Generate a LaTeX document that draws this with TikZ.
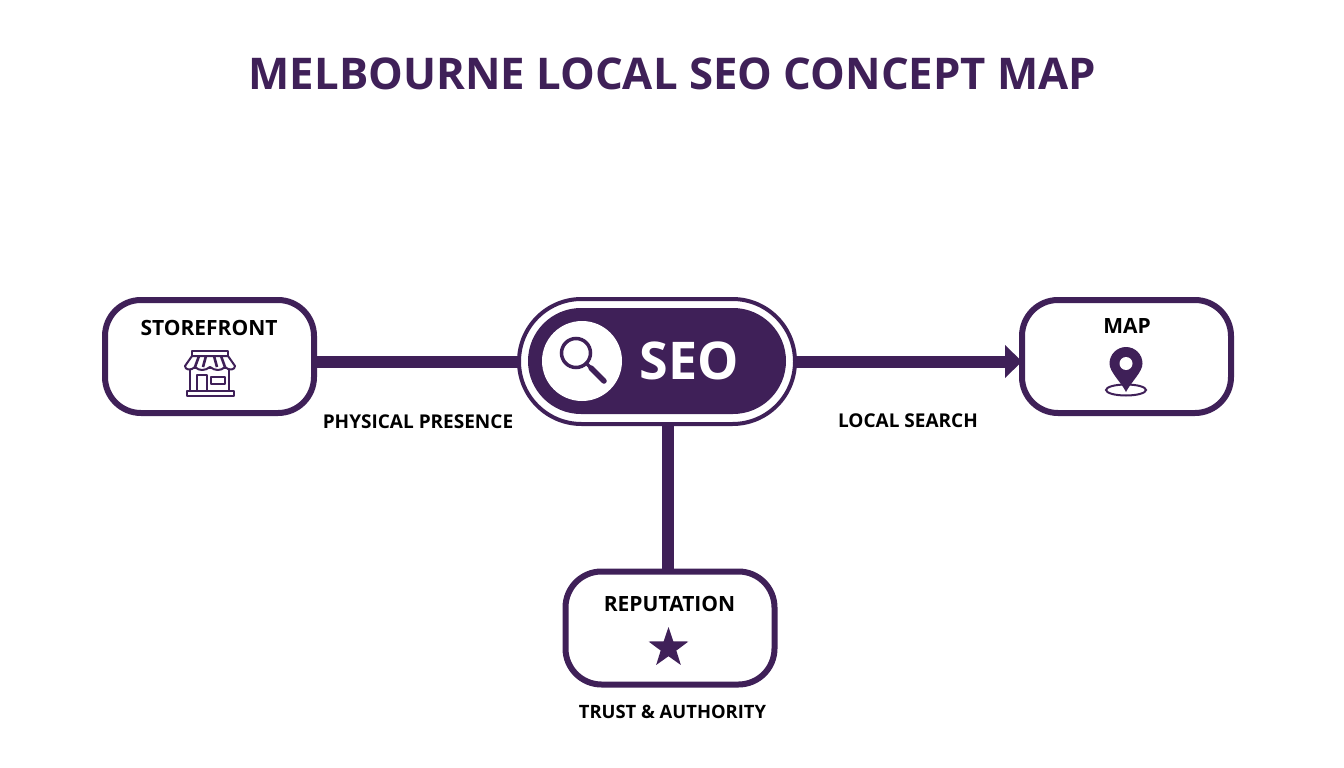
\documentclass[tikz,border=0pt]{standalone}
\usepackage{fontspec}
\setmainfont{Open Sans}
\usetikzlibrary{arrows.meta,shapes.geometric,shapes.misc}
\definecolor{plum}{HTML}{3F2058}
\tikzset{
  box/.style={draw=plum,line width=6pt,rounded corners=36pt,fill=white,minimum width=209pt,minimum height=113pt,outer sep=0pt,inner sep=0pt},
  link/.style={draw=plum,line width=12pt},
  head/.style={font=\bfseries\fontsize{21}{21}\selectfont,text=black,inner sep=0pt},
  caption/.style={font=\bfseries\fontsize{19}{19}\selectfont,text=black,inner sep=0pt},
  icon/.style={draw=plum,line width=2pt,fill=white,line join=round},
}
\begin{document}
\begin{tikzpicture}[x=1pt,y=-1pt]
\useasboundingbox (0,0) rectangle (1344,768);
\fill[white] (0,0) rectangle (1344,768);
\node[font=\bfseries\fontsize{43.7}{43.7}\selectfont,text=plum,inner sep=0pt] (title) at (672.5,74) {MELBOURNE LOCAL SEO CONCEPT MAP};

\node[box] (store) at (209.5,356.5) {};
\node[box] (map) at (1126.5,356.5) {};
\node[box] (rep) at (670,628) {};
\node[rounded rectangle,draw=plum,line width=4pt,fill=white,minimum width=276pt,minimum height=125pt,outer sep=0pt,inner sep=0pt] (seo) at (657,361.5) {};
\node[rounded rectangle,fill=plum,minimum width=258pt,minimum height=106pt,outer sep=0pt,inner sep=0pt] (seoin) at (657,361) {};
\node[circle,fill=white,minimum size=80pt,inner sep=0pt,outer sep=0pt] (lensbg) at (582,361) {};
\node[font=\bfseries\fontsize{52}{52}\selectfont,text=white,inner sep=0pt] (seot) at (689,361) {SEO};

\draw[link] (store.east |- seo.west) -- (seo.west);
\draw[link,-{Triangle[length=17pt,width=32pt]}] (seo.east) -- (map.west |- seo.east);
\draw[link] ([xshift=-2pt]rep.north) -- ([xshift=-2pt]rep.north |- seo.south);

\node[head] (storet) at (209,328) {STOREFRONT};
\node[head] (mapt) at (1127,326) {MAP};
\node[head] (rept) at (669.5,604) {REPUTATION};
\node[caption] (c1) at (418,422) {PHYSICAL PRESENCE};
\node[caption] (c2) at (908,421) {LOCAL SEARCH};
\node[caption,font=\bfseries\fontsize{18.4}{18.4}\selectfont] (c3) at (672.5,712) {TRUST \& AUTHORITY};

% magnifier
\draw[plum,line width=3.5pt] (576,353) circle (14.5);
\draw[plum,line width=3.5pt] (586.5,363.5) -- (592,369);
\draw[plum,line width=5.5pt,line cap=round] (591,368) -- (604,381);

% storefront icon
\draw[icon] (190,368) rectangle (229,391);
\draw[icon] (192,351) rectangle (228,356);
\draw[icon] (192,356) -- (228,356) -- (235,366) .. controls (235,370) and (229,371) .. (225,367) .. controls (221,371) and (215,371) .. (210,367) .. controls (205,371) and (199,371) .. (195,367) .. controls (191,371) and (185,370) .. (185,366) -- cycle;
\foreach \a/\b in {199/195,206/203,214/217,221/225}
  \draw[plum,line width=2.6pt] (\a,356) -- (\b,367);
\draw[icon] (197,375) rectangle (207,391);
\draw[icon] (211,377) rectangle (225,384);
\draw[icon] (187,391) rectangle (234,396);

% pin icon
\draw[plum,line width=2pt,fill=white] (1126,390) ellipse (20 and 5.5);
\fill[plum] (1126,392) .. controls (1121,382) and (1109.5,372) .. (1109.5,363.5) arc (180:360:16.5) .. controls (1142.5,372) and (1131,382) .. (1126,392) -- cycle;
\fill[white] (1126,363.5) circle (6.5);

% star
\node[star,star points=5,star point ratio=2.55,fill=plum,minimum size=42pt,inner sep=0pt,outer sep=0pt] (starn) at (668.5,648) {};
\end{tikzpicture}
\end{document}
